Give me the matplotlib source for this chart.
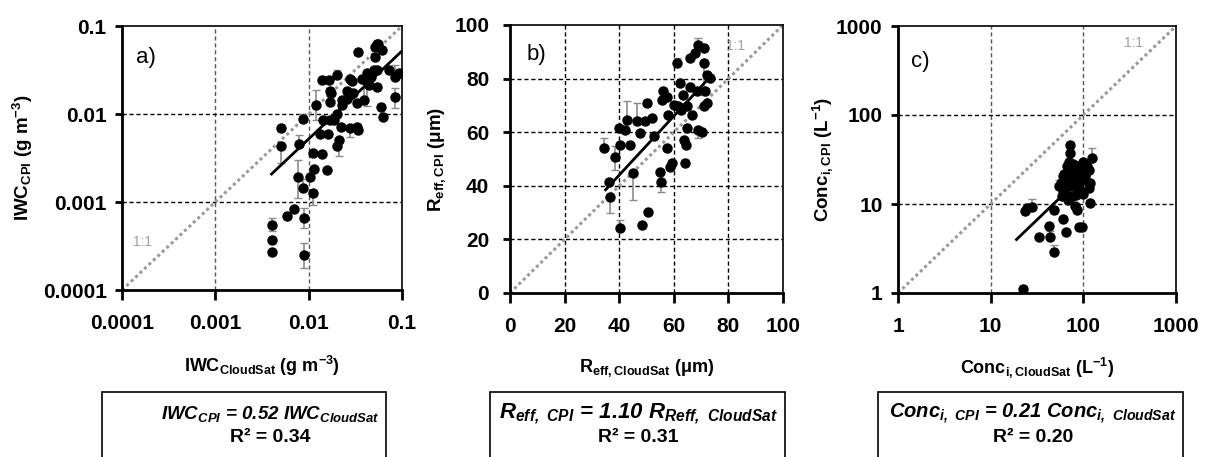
import matplotlib.pyplot as plt
import matplotlib.ticker as mticker
from matplotlib.patches import Rectangle
import numpy as np

plt.rcParams['font.family'] = ['Liberation Sans', 'DejaVu Sans']
plt.rcParams['mathtext.default'] = 'regular'

# ---- panel a: ice water content (g m-3) ----
iwc_cloudsat = [0.0040, 0.0040, 0.0040, 0.0059, 0.0070, 0.0089, 0.0089, 0.0112, 0.0088, 0.0077,
                0.0115, 0.0104, 0.0157, 0.0112, 0.0138, 0.0051, 0.0051, 0.0078, 0.0087, 0.0120,
                0.0142, 0.0170, 0.0173, 0.0167, 0.0138, 0.0200, 0.0210, 0.0200, 0.0280, 0.0340,
                0.0280, 0.0340, 0.0520, 0.0540, 0.0280, 0.0330, 0.0390, 0.0440, 0.0420, 0.0500,
                0.0520, 0.0560, 0.0610, 0.0590, 0.0630, 0.0850, 0.0920, 0.0720, 0.0290, 0.0220,
                0.0330, 0.0300, 0.0260, 0.0227, 0.0185, 0.0133, 0.0163, 0.0420, 0.0540, 0.0370,
                0.0540, 0.0460, 0.0850, 0.0170, 0.0260, 0.0227, 0.0200, 0.0170]
iwc_cpi = [0.00055, 0.00037, 0.00027, 0.00069, 0.00083, 0.00065, 0.00025, 0.00126, 0.00143, 0.0019,
           0.0024, 0.0019, 0.0023, 0.0036, 0.0035, 0.0043, 0.0069, 0.0046, 0.0087, 0.0126,
           0.0085, 0.0138, 0.0172, 0.0243, 0.0243, 0.0276, 0.0050, 0.0043, 0.0069, 0.0066,
           0.0253, 0.0510, 0.0580, 0.0630, 0.0164, 0.0133, 0.0145, 0.0213, 0.0290, 0.0316,
           0.0450, 0.0630, 0.0530, 0.0120, 0.0093, 0.0158, 0.0290, 0.0316, 0.0240, 0.0072,
           0.0072, 0.0174, 0.0150, 0.0126, 0.0085, 0.0060, 0.0060, 0.0234, 0.0316, 0.0253,
           0.0203, 0.0260, 0.0260, 0.0183, 0.0183, 0.0145, 0.0101, 0.0085]
iwc_err_lo = [0.00008, 0, 0, 0, 0, 0.00015, 0.00007, 0.00034, 0, 0.0008,
              0, 0, 0, 0, 0, 0.0015, 0, 0, 0, 0.004,
              0, 0, 0, 0, 0, 0, 0.0017, 0, 0.0014, 0,
              0, 0.004, 0, 0, 0, 0, 0, 0, 0, 0,
              0, 0, 0, 0, 0, 0.004, 0, 0, 0, 0,
              0, 0, 0, 0, 0, 0, 0, 0.011, 0, 0,
              0, 0, 0, 0, 0, 0, 0, 0]
iwc_err_hi = [0.0001, 0, 0, 0, 0, 0.0002, 0.00009, 0, 0.0004, 0.0011,
              0, 0, 0, 0, 0, 0, 0, 0.0012, 0.0012, 0.006,
              0, 0, 0, 0, 0, 0.004, 0, 0, 0, 0,
              0, 0, 0, 0, 0, 0, 0.005, 0, 0, 0,
              0, 0, 0, 0, 0, 0.004, 0, 0, 0, 0,
              0, 0, 0, 0, 0, 0, 0, 0, 0, 0,
              0, 0, 0.01, 0, 0, 0, 0, 0]
iwc_slope = 0.52
iwc_fit_range = [0.004, 0.1]

# ---- panel b: effective radius (um) ----
reff_cloudsat = [34.5, 36.7, 36.3, 38.3, 40.3, 40.3, 40.0, 42.8, 42.2, 43.8,
                 45.2, 48.3, 50.7, 50.1, 52.0, 52.6, 49.5, 55.3, 55.0, 55.6,
                 56.2, 57.5, 57.7, 57.5, 58.7, 59.3, 61.1, 61.4, 62.1, 63.3,
                 63.6, 64.5, 64.8, 64.2, 62.6, 66.0, 67.8, 69.0, 70.9, 70.9,
                 72.1, 73.3, 69.0, 70.3, 70.9, 72.1, 71.5, 66.6, 66.0, 68.4,
                 64.8, 60.0, 47.7, 46.5]
reff_cpi = [54.0, 36.0, 41.6, 50.9, 24.2, 55.3, 61.5, 64.6, 60.9, 55.3,
            44.7, 25.5, 30.4, 70.8, 65.2, 58.4, 64.0, 41.6, 45.3, 72.0,
            75.2, 73.3, 66.5, 54.0, 47.2, 48.4, 85.7, 69.6, 78.3, 73.9,
            57.1, 55.3, 61.5, 48.4, 68.3, 87.6, 89.4, 92.5, 91.3, 85.7,
            81.4, 80.1, 60.9, 60.2, 69.6, 70.8, 75.2, 66.5, 77.0, 75.2,
            69.6, 70.2, 59.6, 64.0]
reff_err_lo = [0, 6, 0, 5, 0, 0, 0, 0, 0, 0,
               10, 0, 0, 0, 0, 0, 0, 4, 0, 0,
               0, 0, 0, 0, 0, 0, 0, 0, 0, 0,
               0, 0, 0, 0, 0, 0, 0, 0, 0, 12,
               0, 0, 3, 0, 0, 0, 0, 0, 0, 0,
               0, 0, 0, 0]
reff_err_hi = [4, 0, 0, 4, 3, 0, 0, 7, 0, 0,
               0, 0, 0, 0, 0, 0, 0, 0, 0, 0,
               0, 0, 0, 0, 0, 0, 2, 0, 0, 0,
               0, 0, 0, 0, 0, 0, 0, 2.5, 0, 0,
               0, 0, 0, 0, 0, 0, 0, 0, 0, 0,
               0, 0, 0, 7]
reff_slope = 1.10
reff_fit_range = [35, 72.5]

# ---- panel c: ice number concentration (L-1) ----
conc_cloudsat = [22.3, 24.6, 23.6, 27.9, 32.9, 42.2, 44.0, 47.7, 48.5, 60.0,
                 65.0, 72.0, 72.0, 66.5, 61.0, 54.0, 72.0, 85.0, 100.0, 114.0,
                 123.0, 118.6, 118.0, 82.0, 86.5, 89.0, 96.6, 75.0, 64.0, 92.6,
                 105.0, 59.0, 69.0, 60.0, 68.0, 75.0, 80.0, 88.0, 95.0, 100.0,
                 78.0, 90.0, 84.0, 70.0, 62.0, 105.0, 110.0, 115.0, 98.0, 58.0,
                 76.0, 82.0, 94.0]
conc_cpi = [1.11, 9.0, 8.3, 9.25, 4.3, 5.7, 4.26, 2.9, 8.5, 6.8,
            4.9, 46.0, 37.0, 26.5, 20.4, 15.8, 15.8, 26.5, 28.9, 24.3,
            32.9, 17.2, 10.3, 9.4, 8.6, 5.5, 5.5, 12.2, 13.3, 14.5,
            18.8, 12.2, 11.2, 14.0, 18.0, 22.0, 16.0, 20.0, 24.0, 13.0,
            28.0, 17.0, 12.5, 30.0, 22.0, 21.0, 27.0, 15.0, 30.0, 17.0,
            19.0, 23.0, 19.0]
conc_err_lo = [0] * 53
conc_err_hi = [0.1, 0, 0, 2.0, 0, 0, 0.7, 0.6, 0, 0,
               0, 0, 0, 0, 0, 3, 0, 0, 0, 0,
               9.8, 6, 0, 0, 0, 0, 0, 0, 0, 0,
               0, 0, 0, 0, 0, 0, 0, 0, 0, 0,
               0, 0, 0, 0, 0, 0, 0, 0, 0, 0,
               0, 0, 0]
conc_slope = 0.21
conc_fit_range = [19, 55]

fig = plt.figure(figsize=(12.08, 4.57), dpi=100)
W, H = 1208, 457


def px_axes(left, right, top, bottom):
    return fig.add_axes([left / W, 1 - bottom / H, (right - left) / W, (bottom - top) / H])


ax_a = px_axes(122, 402, 26, 290)
ax_b = px_axes(510, 783, 25, 293)
ax_c = px_axes(898, 1176, 26, 293)

panels = [
    dict(ax=ax_a, x=iwc_cloudsat, y=iwc_cpi, lo=iwc_err_lo, hi=iwc_err_hi, slope=iwc_slope,
         fit=iwc_fit_range, log=True, lim=(1e-4, 0.1), ticks=[0.0001, 0.001, 0.01, 0.1],
         xlabel=r'IWC$_{CloudSat}$ (g m$^{-3}$)', ylabel=r'IWC$_{CPI}$ (g m$^{-3}$)',
         letter='a)', letter_pos=(0.05, 0.88), one_pos=(0.075, 0.18), ypad=6,
         ylab_x=-0.354, xlab_y=-0.288, box=(102, 386), text_cx=270, eq_size=13.5,
         eq=r'$IWC_{CPI}$ = 0.52 $IWC_{CloudSat}$', r2='R² = 0.34'),
    dict(ax=ax_b, x=reff_cloudsat, y=reff_cpi, lo=reff_err_lo, hi=reff_err_hi, slope=reff_slope,
         fit=reff_fit_range, log=False, lim=(0, 100), ticks=[0, 20, 40, 60, 80, 100],
         xlabel=r'R$_{eff,CloudSat}$ ($\mu$m)', ylabel=r'R$_{eff,CPI}$ ($\mu$m)',
         letter='b)', letter_pos=(0.06, 0.89), one_pos=(0.825, 0.92), ypad=10,
         ylab_x=-0.267, xlab_y=-0.28, box=(490, 785), text_cx=638, eq_size=16,
         eq=r'$R_{eff,\ CPI}$ = 1.10 $R_{Reff,\ CloudSat}$', r2='R² = 0.31'),
    dict(ax=ax_c, x=conc_cloudsat, y=conc_cpi, lo=conc_err_lo, hi=conc_err_hi, slope=conc_slope,
         fit=conc_fit_range, log=True, lim=(1, 1000), ticks=[1, 10, 100, 1000],
         xlabel=r'Conc$_{i,CloudSat}$ (L$^{-1}$)', ylabel=r'Conc$_{i,CPI}$ (L$^{-1}$)',
         letter='c)', letter_pos=(0.045, 0.866), one_pos=(0.846, 0.935), ypad=6,
         ylab_x=-0.273, xlab_y=-0.28, box=(878, 1183), text_cx=1033, eq_size=14.5,
         eq=r'$Conc_{i,\ CPI}$ = 0.21 $Conc_{i,\ CloudSat}$', r2='R² = 0.20'),
]

for p in panels:
    ax = p['ax']
    if p['log']:
        ax.set_xscale('log')
        ax.set_yscale('log')
    ax.set_xlim(p['lim'])
    ax.set_ylim(p['lim'])
    ax.set_xticks(p['ticks'])
    ax.set_yticks(p['ticks'])
    fmt = mticker.FuncFormatter(lambda v, pos: '%g' % v)
    ax.xaxis.set_major_formatter(fmt)
    ax.yaxis.set_major_formatter(fmt)
    ax.xaxis.set_minor_locator(mticker.NullLocator())
    ax.yaxis.set_minor_locator(mticker.NullLocator())

    # grid: vertical lines lighter on log panels
    vcol = '0.35' if p['log'] else 'black'
    for t in p['ticks'][1:-1]:
        ax.axvline(t, color=vcol, lw=1, ls=(0, (3, 2)), zorder=1)
        ax.axhline(t, color='black', lw=1, ls=(0, (3, 2)), zorder=1)

    # 1:1 line
    ax.plot(p['lim'], p['lim'], color='#9a9a9a', lw=2.2, ls=(0, (1, 1)), zorder=2)
    ax.text(*p['one_pos'], '1:1', transform=ax.transAxes, color='#a0a0a0',
            fontsize=10, ha='center', va='center')

    # data with error bars
    ax.errorbar(p['x'], p['y'], yerr=[p['lo'], p['hi']], fmt='none', ecolor='#8c8c8c',
                elinewidth=1.2, capsize=3, capthick=1, zorder=3)
    ax.plot(p['x'], p['y'], 'o', color='black', ms=6.5, zorder=4)

    # regression line
    fx = np.array(p['fit'])
    ax.plot(fx, p['slope'] * fx, color='black', lw=2, zorder=5)

    ax.text(*p['letter_pos'], p['letter'], transform=ax.transAxes, fontsize=16,
            ha='left', va='center')

    for s in ['left', 'bottom']:
        ax.spines[s].set_linewidth(2)
    for s in ['top', 'right']:
        ax.spines[s].set_linewidth(1.2)
    ax.tick_params(axis='x', direction='out', length=7, width=2, pad=10, labelsize=15)
    ax.tick_params(axis='y', direction='out', length=5, width=2, pad=p['ypad'], labelsize=15)
    for lab in ax.get_xticklabels() + ax.get_yticklabels():
        lab.set_fontweight('bold')

    ax.set_xlabel(p['xlabel'], fontsize=13, fontweight='bold', va='center')
    ax.set_ylabel(p['ylabel'], fontsize=13.5, fontweight='bold', va='center')
    ax.xaxis.set_label_coords(0.5, p['xlab_y'])
    ax.yaxis.set_label_coords(p['ylab_x'], 0.5)

    # equation box (bottom edge runs off the figure)
    bx0, bx1 = p['box']
    fig.add_artist(Rectangle((bx0 / W, -0.05), (bx1 - bx0) / W, 0.05 + (457 - 392) / H,
                             transform=fig.transFigure, fill=False, edgecolor='black', lw=1.2))
    cx = p['text_cx'] / W
    fig.text(cx, 1 - 414 / H, p['eq'], fontsize=p['eq_size'], fontstyle='italic',
             fontweight='bold', ha='center', va='center')
    fig.text(cx, 1 - 438 / H, p['r2'], fontsize=14, fontweight='bold', ha='center', va='center')

fig.savefig('out.png', dpi=100)
